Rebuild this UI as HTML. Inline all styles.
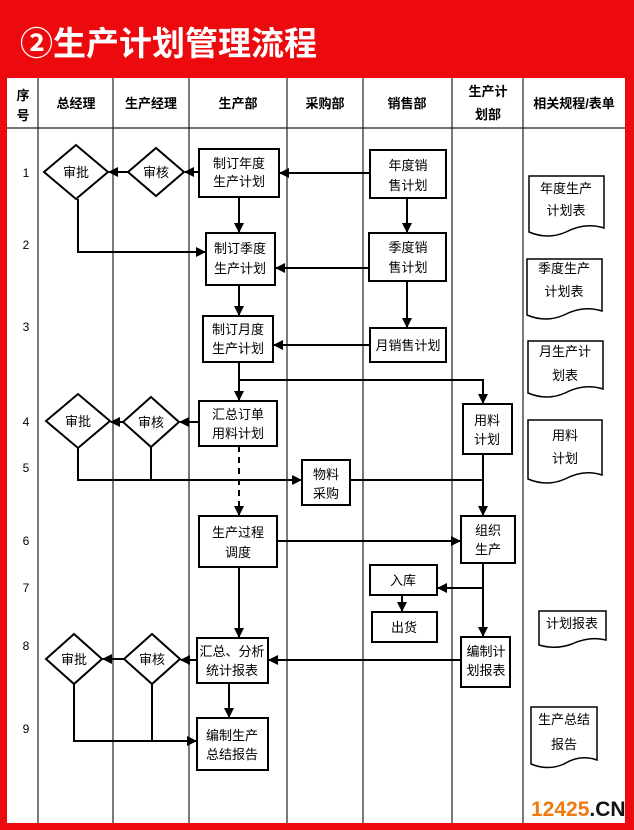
<!DOCTYPE html>
<html><head><meta charset="utf-8"><style>
html,body{margin:0;padding:0;background:#e8000a;}
svg{display:block}
text{font-family:"Liberation Sans","Noto Sans CJK SC",sans-serif;}
</style></head><body>
<svg width="634" height="830" viewBox="0 0 634 830" xmlns="http://www.w3.org/2000/svg">
<defs>
<marker id="a" viewBox="0 0 10 10" refX="9" refY="5" markerWidth="5" markerHeight="5" orient="auto"><path d="M0,0L10,5L0,10z" fill="#000"/></marker>
</defs>
<rect width="634" height="830" fill="#ec0a0e"/>
<text x="20" y="55" font-size="33" font-weight="bold" fill="#fff" style="font-family:'Noto Sans CJK SC',sans-serif">②生产计划管理流程</text>
<rect x="7" y="78" width="618" height="745" fill="#fff"/>
<g stroke="#222" stroke-width="1.2" fill="none">
<line x1="7" y1="128" x2="625" y2="128"/>
<line x1="38" y1="78" x2="38" y2="823"/>
<line x1="113" y1="78" x2="113" y2="823"/>
<line x1="189" y1="78" x2="189" y2="823"/>
<line x1="287" y1="78" x2="287" y2="823"/>
<line x1="363" y1="78" x2="363" y2="823"/>
<line x1="452" y1="78" x2="452" y2="823"/>
<line x1="523" y1="78" x2="523" y2="823"/>
</g>
<g font-size="13" font-weight="bold" text-anchor="middle" fill="#000">
<text x="23" y="100">序</text><text x="23" y="120">号</text>
<text x="76" y="108">总经理</text>
<text x="151" y="108">生产经理</text>
<text x="238" y="108">生产部</text>
<text x="325" y="108">采购部</text>
<text x="407" y="108">销售部</text>
<text x="488" y="96">生产计</text><text x="488" y="119">划部</text>
<text x="574" y="108">相关规程/表单</text>
</g>
<g font-size="12" text-anchor="middle" fill="#000" font-family="Liberation Serif">
<text x="26" y="177">1</text><text x="26" y="249">2</text><text x="26" y="331">3</text>
<text x="26" y="426">4</text><text x="26" y="472">5</text><text x="26" y="545">6</text>
<text x="26" y="592">7</text><text x="26" y="650">8</text><text x="26" y="733">9</text>
</g>
<g stroke="#000" stroke-width="2" fill="#fff">
<polygon points="44,172 76,145 108,172 76,199"/>
<polygon points="128,172 156,148 184,172 156,196"/>
<rect x="199" y="149" width="80" height="48"/>
<rect x="370" y="150" width="76" height="48"/>
<rect x="206" y="233" width="69" height="52"/>
<rect x="369" y="233" width="77" height="48"/>
<rect x="203" y="316" width="70" height="46"/>
<rect x="370" y="328" width="76" height="34"/>
<polygon points="46,421 78,394 110,421 78,448"/>
<polygon points="123,422 151,397 179,422 151,447"/>
<rect x="199" y="401" width="78" height="45"/>
<rect x="463" y="404" width="49" height="50"/>
<rect x="302" y="460" width="48" height="45"/>
<rect x="199" y="516" width="78" height="51"/>
<rect x="461" y="516" width="54" height="47"/>
<rect x="370" y="565" width="67" height="30"/>
<rect x="372" y="612" width="65" height="30"/>
<rect x="197" y="638" width="71" height="45"/>
<rect x="461" y="637" width="49" height="50"/>
<polygon points="46,659 74,634 102,659 74,684"/>
<polygon points="124,659 152,634 180,659 152,684"/>
<rect x="197" y="718" width="71" height="52"/>
</g>
<g stroke="#000" stroke-width="1.5" fill="#fff">
<path d="M529,176 H604 V228 Q585,222 566,232 Q548,240 529,232 Z"/>
<path d="M527,259 H602 V311 Q583,305 564,315 Q546,323 527,315 Z"/>
<path d="M528,341 H603 V389 Q584,383 565,393 Q547,401 528,393 Z"/>
<path d="M528,420 H602 V475 Q584,469 565,479 Q547,487 528,479 Z"/>
<path d="M539,611 H606 V640 Q589,636 572,644 Q556,650 539,645 Z"/>
<path d="M531,707 H597 V760 Q580,754 564,764 Q548,771 531,764 Z"/>
</g>
<g stroke="#000" stroke-width="2" fill="none" marker-end="url(#a)">
<line x1="370" y1="173" x2="280" y2="173"/>
<line x1="199" y1="172" x2="185" y2="172"/>
<line x1="128" y1="172" x2="109" y2="172"/>
<line x1="239" y1="197" x2="239" y2="232"/>
<line x1="407" y1="198" x2="407" y2="232"/>
<path d="M78,199 V252 H205"/>
<line x1="369" y1="268" x2="276" y2="268"/>
<line x1="239" y1="285" x2="239" y2="315"/>
<line x1="407" y1="281" x2="407" y2="327"/>
<line x1="370" y1="345" x2="274" y2="345"/>
<line x1="239" y1="362" x2="239" y2="400"/>
<path d="M239,380 H483 V403"/>
<line x1="199" y1="422" x2="180" y2="422"/>
<line x1="123" y1="422" x2="111" y2="422"/>
<path d="M78,448 V480 H301"/>
<line x1="483" y1="454" x2="483" y2="515"/>
<line x1="277" y1="541" x2="460" y2="541"/>
<line x1="483" y1="588" x2="438" y2="588"/>
<line x1="402" y1="595" x2="402" y2="611"/>
<line x1="483" y1="563" x2="483" y2="636"/>
<line x1="239" y1="567" x2="239" y2="637"/>
<line x1="461" y1="660" x2="269" y2="660"/>
<line x1="197" y1="660" x2="181" y2="660"/>
<line x1="124" y1="659" x2="103" y2="659"/>
<line x1="229" y1="683" x2="229" y2="717"/>
<path d="M74,684 V741 H196"/>
</g>
<g stroke="#000" stroke-width="2" fill="none">
<line x1="151" y1="447" x2="151" y2="480"/>
<line x1="350" y1="480" x2="483" y2="480"/>
<line x1="152" y1="684" x2="152" y2="741"/>
</g>
<line x1="239" y1="446" x2="239" y2="515" stroke="#000" stroke-width="2" stroke-dasharray="6,5" marker-end="url(#a)"/>
<g font-size="13" text-anchor="middle" fill="#000">
<text x="76" y="177">审批</text><text x="156" y="177">审核</text>
<text x="239" y="168">制订年度</text><text x="239" y="186">生产计划</text>
<text x="408" y="170">年度销</text><text x="408" y="190">售计划</text>
<text x="240" y="253">制订季度</text><text x="240" y="273">生产计划</text>
<text x="408" y="252">季度销</text><text x="408" y="272">售计划</text>
<text x="238" y="334">制订月度</text><text x="238" y="353">生产计划</text>
<text x="408" y="350">月销售计划</text>
<text x="78" y="426">审批</text><text x="151" y="427">审核</text>
<text x="238" y="419">汇总订单</text><text x="238" y="438">用料计划</text>
<text x="487" y="425">用料</text><text x="487" y="444">计划</text>
<text x="326" y="479">物料</text><text x="326" y="498">采购</text>
<text x="238" y="537">生产过程</text><text x="238" y="557">调度</text>
<text x="488" y="535">组织</text><text x="488" y="554">生产</text>
<text x="403" y="585">入库</text><text x="404" y="632">出货</text>
<text x="232" y="656">汇总、分析</text><text x="232" y="675">统计报表</text>
<text x="486" y="656">编制计</text><text x="486" y="675">划报表</text>
<text x="74" y="664">审批</text><text x="152" y="664">审核</text>
<text x="232" y="740">编制生产</text><text x="232" y="759">总结报告</text>
<text x="566" y="193">年度生产</text><text x="566" y="215">计划表</text>
<text x="564" y="273">季度生产</text><text x="564" y="296">计划表</text>
<text x="565" y="356">月生产计</text><text x="565" y="380">划表</text>
<text x="565" y="440">用料</text><text x="565" y="463">计划</text>
<text x="572" y="628">计划报表</text>
<text x="564" y="724">生产总结</text><text x="564" y="749">报告</text>
</g>
<text x="531" y="816" font-size="21" font-weight="bold" fill="#f07a10" style="font-family:'Liberation Sans',sans-serif">12425<tspan fill="#111">.CN</tspan></text>
</svg>
</body></html>
